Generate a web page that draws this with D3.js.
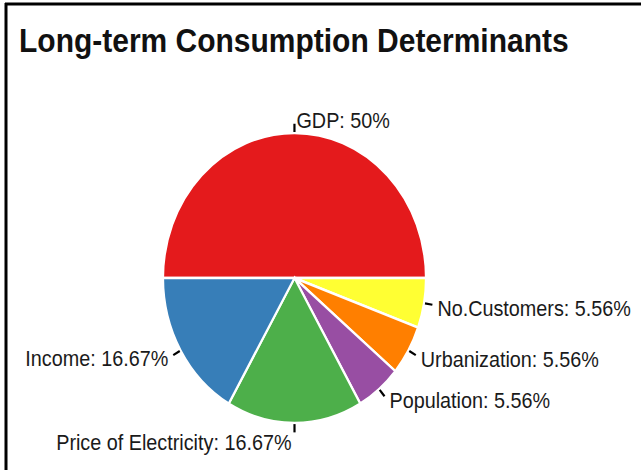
<!DOCTYPE html>
<html>
<head>
<meta charset="utf-8">
<script src="https://cdn.jsdelivr.net/npm/d3@7"></script>
<style>
  html, body { margin: 0; padding: 0; background: #fff; }
  svg { display: block; }
</style>
</head>
<body>
<svg id="chart" width="641" height="470"></svg>
<script>
const title = "Long-term Consumption Determinants";
const categories = ["GDP", "No.Customers", "Urbanization", "Population", "Price of Electricity", "Income"];
const values = [50, 5.56, 5.56, 5.56, 16.67, 16.67];
const valueLabels = ["50%", "5.56%", "5.56%", "5.56%", "16.67%", "16.67%"];
const colors = ["#E41A1C", "#FFFF33", "#FF7F00", "#984EA3", "#4DAF4A", "#377EB8"];

const W = 641, H = 470;
const cx = 294.5, cy = 278, rx = 131.5, ry = 145;
const k = ry / rx;
const textScale = 1.1;

const svg = d3.select("#chart");
svg.append("rect").attr("width", W).attr("height", H).attr("fill", "#fff");

// frame (top and left lines)
svg.append("line").attr("x1", 5).attr("x2", 641).attr("y1", 4).attr("y2", 4)
  .attr("stroke", "#000").attr("stroke-width", 3);
svg.append("line").attr("x1", 6).attr("x2", 6).attr("y1", 3).attr("y2", 470)
  .attr("stroke", "#000").attr("stroke-width", 3);

// title
svg.append("text")
  .attr("transform", `translate(19,52) scale(1,1.1)`)
  .attr("font-family", "Liberation Sans, Arial, sans-serif")
  .attr("font-weight", "bold")
  .attr("font-size", 30)
  .attr("fill", "#111")
  .text(title);

const pie = d3.pie().value(d => d).sort(null)
  .startAngle(-Math.PI / 2).endAngle(3 * Math.PI / 2);
const arcs = pie(values);
const arc = d3.arc().innerRadius(0).outerRadius(rx);

const g = svg.append("g").attr("transform", `translate(${cx},${cy}) scale(1,${k})`);
g.selectAll("path").data(arcs).join("path")
  .attr("d", arc)
  .attr("fill", (d, i) => colors[i])
  .attr("stroke", "#fff")
  .attr("stroke-width", 2.2);

// ticks + labels
const pt = (a, r) => [cx + r * Math.sin(a), cy - r * k * Math.cos(a)];
const lab = svg.append("g");
arcs.forEach((d, i) => {
  const a = (d.startAngle + d.endAngle) / 2;
  const p0 = pt(a, rx + 1), p1 = pt(a, rx + 8.5);
  lab.append("line")
    .attr("x1", p0[0]).attr("y1", p0[1]).attr("x2", p1[0]).attr("y2", p1[1])
    .attr("stroke", "#000").attr("stroke-width", 2.2);
  const s = Math.sin(a), c = Math.cos(a);
  let x, y, anchor;
  if (Math.abs(s) < 0.02 && c > 0) {        // top
    x = p1[0] + 2; y = p1[1] + 4; anchor = "start";
  } else if (Math.abs(s) < 0.02 && c < 0) { // bottom
    x = p1[0] - 3; y = p1[1] + 18; anchor = "end";
  } else if (s > 0) {                        // right
    x = p1[0] + 5; y = p1[1] + 11.5; anchor = "start";
  } else {                                   // left
    x = p1[0] - 5; y = p1[1] + 10.5; anchor = "end";
  }
  lab.append("text")
    .attr("transform", `translate(${x},${y}) scale(1,${textScale})`)
    .attr("text-anchor", anchor)
    .attr("font-family", "Liberation Sans, Arial, sans-serif")
    .attr("font-size", 19.8)
    .attr("fill", "#1a1a1a")
    .text(categories[i] + ": " + valueLabels[i]);
});
</script>
</body>
</html>
